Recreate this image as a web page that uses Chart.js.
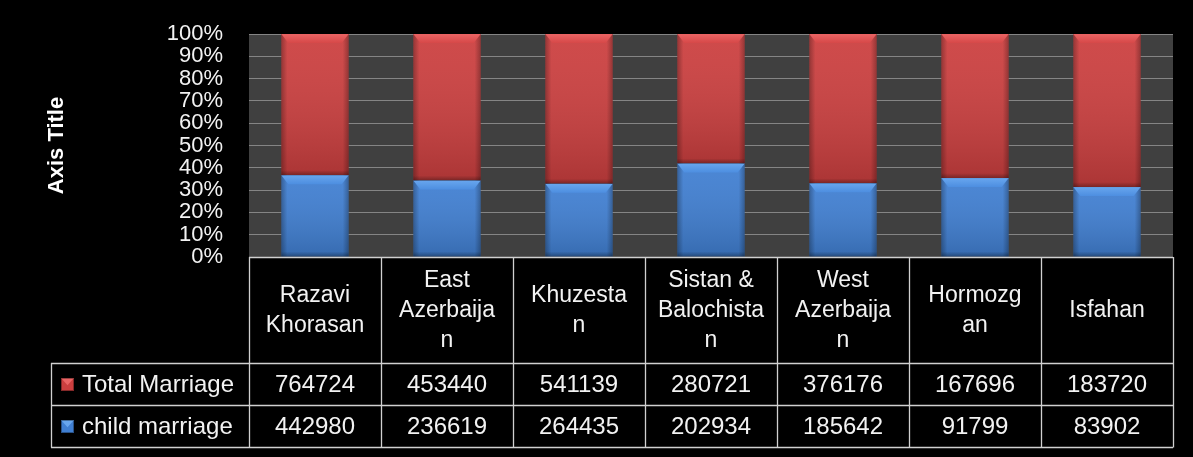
<!DOCTYPE html>
<html><head><meta charset="utf-8">
<script src="https://cdn.jsdelivr.net/npm/chart.js@4.4.0/dist/chart.umd.min.js"></script>
<style>html,body{margin:0;padding:0;background:#000;}#wrap{width:1193px;height:457px;position:relative;background:#000}</style>
</head><body><div id="wrap"><canvas id="c" width="1193" height="457"></canvas></div>
<script>
const categories = ["Razavi Khorasan","East Azerbaijan","Khuzestan","Sistan & Balochistan","West Azerbaijan","Hormozgan","Isfahan"];
const categoryLines = [["Razavi","Khorasan"],["East","Azerbaija","n"],["Khuzesta","n"],["Sistan &","Balochista","n"],["West","Azerbaija","n"],["Hormozg","an"],["Isfahan"]];
const totalMarriage = [764724,453440,541139,280721,376176,167696,183720];
const childMarriage = [442980,236619,264435,202934,185642,91799,83902];
const seriesNames = ["Total Marriage","child marriage"];
const yTickValues = [0,10,20,30,40,50,60,70,80,90,100];
const axisTitle = "Axis Title";

const childPct = childMarriage.map((v,i)=> v/(v+totalMarriage[i])*100);
const totalPct = totalMarriage.map((v,i)=> v/(v+childMarriage[i])*100);

const RED = '#cc3f3f', BLUE = '#407fd2';
const RED_TOP = '#ea6464', BLUE_TOP = '#68a6ee';

const bgPlugin = {
  id:'bg',
  beforeDraw(chart){
    const {ctx, chartArea:a} = chart;
    ctx.save();
    ctx.fillStyle='#000'; ctx.fillRect(0,0,chart.width,chart.height);
    ctx.fillStyle='#404040'; ctx.fillRect(a.left,a.top,a.right-a.left,a.bottom-a.top);
    ctx.restore();
  }
};

const bevelPlugin = {
  id:'bevel',
  afterDatasetsDraw(chart){
    const ctx = chart.ctx;
    chart.data.datasets.forEach((ds,di)=>{
      const meta = chart.getDatasetMeta(di);
      const topCol = di===0 ? BLUE_TOP : RED_TOP;
      meta.data.forEach(el=>{
        const {x,y,base,width} = el.getProps(['x','y','base','width'],true);
        const l = x-width/2, r = x+width/2, t = Math.min(y,base), b = Math.max(y,base);
        ctx.save();
        let g = ctx.createLinearGradient(0,t,0,b);
        g.addColorStop(0,'rgba(255,255,255,0.06)');
        g.addColorStop(1,'rgba(0,0,0,0.16)');
        ctx.fillStyle=g; ctx.fillRect(l,t,width,b-t);
        g = ctx.createLinearGradient(l,0,l+6,0);
        g.addColorStop(0,'rgba(0,0,0,0.28)'); g.addColorStop(1,'rgba(0,0,0,0)');
        ctx.fillStyle=g; ctx.fillRect(l,t,6,b-t);
        g = ctx.createLinearGradient(r,0,r-6,0);
        g.addColorStop(0,'rgba(0,0,0,0.28)'); g.addColorStop(1,'rgba(0,0,0,0)');
        ctx.fillStyle=g; ctx.fillRect(r-6,t,6,b-t);
        g = ctx.createLinearGradient(0,b,0,b-5);
        g.addColorStop(0,'rgba(0,0,0,0.3)'); g.addColorStop(1,'rgba(0,0,0,0)');
        ctx.fillStyle=g; ctx.fillRect(l,b-5,width,5);
        const h = Math.min(9,(b-t)/2);
        ctx.beginPath();
        ctx.moveTo(l,t); ctx.lineTo(r,t); ctx.lineTo(r-7,t+h); ctx.lineTo(l+7,t+h); ctx.closePath();
        g = ctx.createLinearGradient(0,t,0,t+h);
        g.addColorStop(0,topCol); g.addColorStop(1,di===0?'#4d8ee0':'#d64848');
        ctx.fillStyle=g; ctx.fill();
        ctx.restore();
      });
    });
  }
};

function drawKey(ctx,x,y,s,main,top){
  ctx.fillStyle=main; ctx.fillRect(x,y,s,s);
  ctx.beginPath(); ctx.moveTo(x,y); ctx.lineTo(x+s,y); ctx.lineTo(x+s/2,y+s*0.55); ctx.closePath();
  ctx.fillStyle=top; ctx.fill();
  ctx.strokeStyle='rgba(0,0,0,0.35)'; ctx.lineWidth=1; ctx.strokeRect(x+0.5,y+0.5,s-1,s-1);
}

const tablePlugin = {
  id:'table',
  afterDraw(chart){
    const ctx = chart.ctx, a = chart.chartArea, xs = chart.scales.x;
    const n = categories.length;
    const colW = (a.right-a.left)/n;
    const hdrTop = a.bottom, hdrBot = hdrTop+106, r1 = hdrBot+42, r2 = r1+42;
    const tableLeft = 51;
    ctx.save();
    ctx.strokeStyle='#d0d0d0'; ctx.lineWidth=1.3;
    const line=(x1,y1,x2,y2)=>{ctx.beginPath();ctx.moveTo(x1,y1);ctx.lineTo(x2,y2);ctx.stroke();};
    line(a.left,hdrTop+0.5,a.right,hdrTop+0.5);
    [hdrBot,r1,r2].forEach(yy=>line(tableLeft,yy+0.5,a.right,yy+0.5));
    line(tableLeft+0.5,hdrBot,tableLeft+0.5,r2+0.5);
    for(let i=0;i<=n;i++){
      const xx = Math.round(a.left+i*colW)+0.5;
      line(xx,hdrTop,xx,r2+0.5);
    }
    ctx.fillStyle='#f2f2f2';
    ctx.textAlign='center'; ctx.textBaseline='middle';
    ctx.font='23px "Liberation Sans", Arial, sans-serif';
    const hdrMid = (hdrTop+hdrBot)/2+1;
    categoryLines.forEach((lines,i)=>{
      const cx = xs.getPixelForValue(i);
      const lh = 30;
      lines.forEach((t,k)=>{
        ctx.fillText(t,cx,hdrMid+(k-(lines.length-1)/2)*lh);
      });
    });
    ctx.font='24px "Liberation Sans", Arial, sans-serif';
    const rows=[totalMarriage,childMarriage];
    const rowMids=[(hdrBot+r1)/2+1,(r1+r2)/2+1];
    rows.forEach((arr,ri)=>{
      arr.forEach((v,i)=>{ ctx.fillText(String(v),xs.getPixelForValue(i),rowMids[ri]); });
    });
    ctx.textAlign='left';
    seriesNames.forEach((nm,ri)=>{
      const ym=rowMids[ri];
      drawKey(ctx,tableLeft+10,Math.round(ym-7),13, ri===0?RED:BLUE, ri===0?RED_TOP:BLUE_TOP);
      ctx.fillStyle='#f2f2f2';
      ctx.fillText(nm,tableLeft+31,ym);
    });
    ctx.restore();
  }
};

new Chart(document.getElementById('c'),{
  type:'bar',
  data:{
    labels:categories,
    datasets:[
      {label:seriesNames[1],data:childPct,backgroundColor:BLUE,stack:'s',barPercentage:0.51,categoryPercentage:1,borderWidth:0},
      {label:seriesNames[0],data:totalPct,backgroundColor:RED,stack:'s',barPercentage:0.51,categoryPercentage:1,borderWidth:0}
    ]
  },
  options:{
    responsive:false,
    animation:false,
    devicePixelRatio:1,
    layout:{padding:{left:0,top:34,right:20,bottom:200}},
    plugins:{legend:{display:false},tooltip:{enabled:false}},
    scales:{
      x:{display:false,stacked:true},
      y:{
        stacked:true,min:0,max:100,
        afterFit(s){s.width=249;},
        afterBuildTicks(s){s.ticks=yTickValues.map(v=>({value:v}));},
        grid:{color:'#858585',lineWidth:1,drawTicks:true,tickLength:24,tickColor:'rgba(0,0,0,0)'},
        border:{display:false},
        ticks:{autoSkip:false,padding:2,color:'#f2f2f2',font:{family:'"Liberation Sans", Arial, sans-serif',size:22},callback:v=>v+'%'},
        title:{display:true,text:axisTitle,color:'#ffffff',font:{family:'"Liberation Sans", Arial, sans-serif',size:22,weight:'bold'},padding:{top:44,bottom:0}}
      }
    }
  },
  plugins:[bgPlugin,bevelPlugin,tablePlugin]
});
</script></body></html>
